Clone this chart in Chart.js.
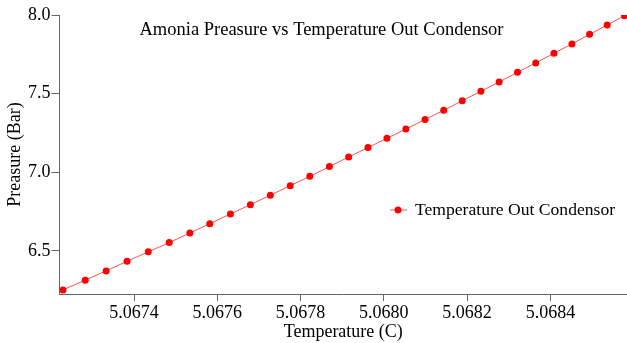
<!DOCTYPE html>
<html>
<head>
<meta charset="utf-8">
<script src="https://cdn.jsdelivr.net/npm/chart.js@4/dist/chart.umd.min.js"></script>
<style>
  html, body { margin: 0; padding: 0; background: #fff; }
  #wrap { width: 627px; height: 343px; }
</style>
</head>
<body>
<div id="wrap"><canvas id="c" width="627" height="343"></canvas></div>
<script>
// values
const temps = [5.0672293, 5.0672827, 5.0673330, 5.0673832, 5.0674342, 5.0674845, 5.0675341, 5.0675819,
  5.0676315, 5.0676794, 5.0677273, 5.0677751, 5.0678221, 5.0678692, 5.0679154, 5.0679619,
  5.0680074, 5.0680528, 5.0680990, 5.0681438, 5.0681883, 5.0682331, 5.0682769, 5.0683210,
  5.0683648, 5.0684086, 5.0684517, 5.0684941, 5.0685364, 5.0685778];
const pressures = [6.252, 6.314, 6.373, 6.434, 6.494, 6.553, 6.614, 6.673, 6.735, 6.794,
  6.854, 6.915, 6.974, 7.036, 7.097, 7.157, 7.216, 7.275, 7.335, 7.394,
  7.455, 7.515, 7.574, 7.636, 7.695, 7.757, 7.816, 7.877, 7.936, 7.996];
const xTicks = [5.0674, 5.0676, 5.0678, 5.0680, 5.0682, 5.0684];
const yTicks = [6.5, 7.0, 7.5, 8.0];

const title = 'Amonia Preasure vs Temperature Out Condensor';
const seriesName = 'Temperature Out Condensor';
const font = 'Liberation Serif, Times New Roman, serif';
const axisCol = '#666';

// title and legend sit inside the plot area, so draw them by hand
const overlay = {
  id: 'overlay',
  afterDraw(ch) {
    const c = ch.ctx;
    c.save();
    c.fillStyle = '#000';
    c.font = `18.5px ${font}`;
    c.textBaseline = 'middle';
    c.textAlign = 'center';
    c.fillText(title, 321.5, 30);
    // legend
    const lx = 390, ly = 210;
    c.strokeStyle = '#ff5050'; c.lineWidth = 1;
    c.beginPath(); c.moveTo(lx, ly); c.lineTo(lx + 17, ly); c.stroke();
    c.fillStyle = '#ff0000';
    c.beginPath(); c.arc(lx + 8, ly, 3.5, 0, Math.PI * 2); c.fill();
    c.fillStyle = '#000'; c.textAlign = 'left';
    c.font = `17.6px ${font}`;
    c.fillText(seriesName, lx + 25, ly);
    c.restore();
  }
};

new Chart(document.getElementById('c'), {
  type: 'scatter',
  data: {
    datasets: [{
      label: seriesName,
      data: temps.map((t, i) => ({ x: t, y: pressures[i] })),
      showLine: true,
      borderColor: '#ff5050', borderWidth: 1,
      pointBackgroundColor: '#ff0000', pointBorderColor: '#ff0000',
      pointRadius: 3.5, pointBorderWidth: 0
    }]
  },
  options: {
    responsive: false, animation: false,
    layout: { autoPadding: false, padding: { top: 15, right: 0, left: 0, bottom: 0 } },
    plugins: { legend: { display: false }, title: { display: false }, tooltip: { enabled: false } },
    scales: {
      x: {
        type: 'linear', min: 5.067221, max: 5.068584,
        afterBuildTicks: ax => { ax.ticks = xTicks.map(v => ({ value: v })); },
        afterFit: ax => { ax.height = 49; ax.paddingRight = 0; ax.paddingLeft = 0; },
        ticks: { color: '#000', font: { family: font, size: 18 }, padding: 1, maxRotation: 0,
          callback: v => v.toFixed(4) },
        grid: { drawOnChartArea: false, drawTicks: true, tickLength: 7, color: axisCol },
        border: { color: axisCol, width: 1 },
        title: { display: true, text: 'Temperature (C)', color: '#000', font: { family: font, size: 18 }, padding: { top: -2, bottom: 0 } }
      },
      y: {
        min: 6.226, max: 8.0,
        afterBuildTicks: ax => { ax.ticks = yTicks.map(v => ({ value: v })); },
        afterFit: ax => { ax.width = 59.5; ax.paddingTop = 0; ax.paddingBottom = 0; },
        ticks: { color: '#000', font: { family: font, size: 18 }, padding: 1,
          callback: v => v.toFixed(1) },
        grid: { drawOnChartArea: false, drawTicks: true, tickLength: 8, color: axisCol },
        border: { color: axisCol, width: 1 },
        title: { display: true, text: 'Preasure (Bar)', color: '#000', font: { family: font, size: 18 }, padding: { top: 4, bottom: 0 } }
      }
    }
  },
  plugins: [overlay]
});
</script>
</body>
</html>
